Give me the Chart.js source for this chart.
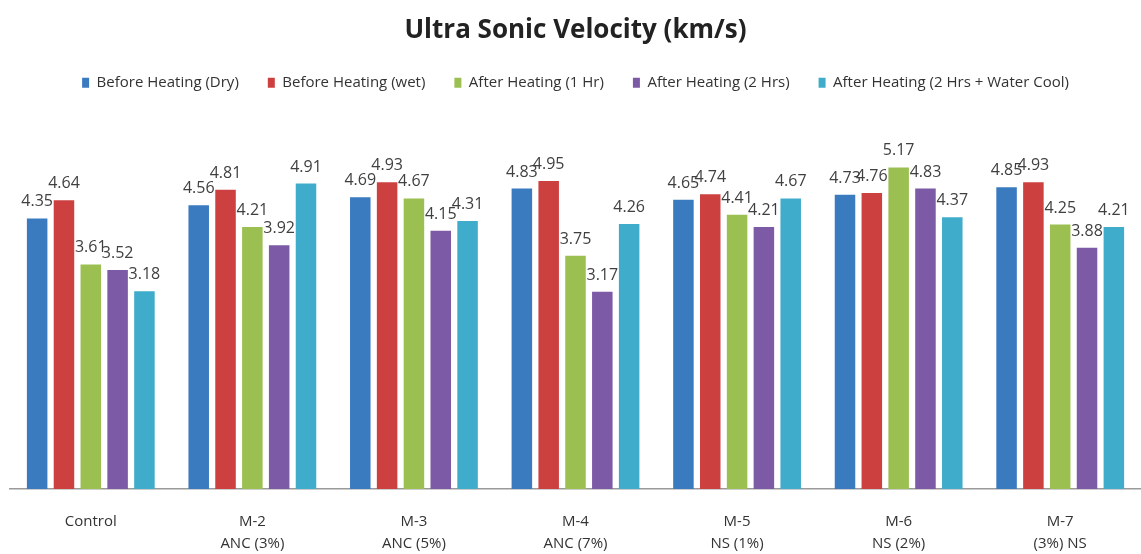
<!DOCTYPE html>
<html>
<head>
<meta charset="utf-8">
<script src="https://cdn.jsdelivr.net/npm/chart.js@4/dist/chart.umd.min.js"></script>
<style>
  html, body { margin: 0; padding: 0; background: #fff; }
  #wrap { width: 1141px; height: 554px; }
</style>
</head>
<body>
<div id="wrap"><canvas id="c" width="1141" height="554"></canvas></div>
<script>
const categories = [
  ['Control'],
  ['M-2', 'ANC (3%)'],
  ['M-3', 'ANC (5%)'],
  ['M-4', 'ANC (7%)'],
  ['M-5', 'NS (1%)'],
  ['M-6', 'NS (2%)'],
  ['M-7', '(3%) NS']
];
const seriesNames = [
  'Before Heating (Dry)',
  'Before Heating (wet)',
  'After Heating (1 Hr)',
  'After Heating (2 Hrs)',
  'After Heating (2 Hrs + Water Cool)'
];
const beforeDry   = [4.35, 4.56, 4.69, 4.83, 4.65, 4.73, 4.85];
const beforeWet   = [4.64, 4.81, 4.93, 4.95, 4.74, 4.76, 4.93];
const after1Hr    = [3.61, 4.21, 4.67, 3.75, 4.41, 5.17, 4.25];
const after2Hrs   = [3.52, 3.92, 4.15, 3.17, 4.21, 4.83, 3.88];
const after2HrsWC = [3.18, 4.91, 4.31, 4.26, 4.67, 4.37, 4.21];

const colors = ['#3A7BC0', '#CD4040', '#9CBF52', '#7D5AA6', '#40ACCB'];
const values = [beforeDry, beforeWet, after1Hr, after2Hrs, after2HrsWC];

const FONT = "'Open Sans', sans-serif";

// writes each bar's value just above its top
const valueLabels = {
  id: 'valueLabels',
  afterDatasetsDraw(chart) {
    const ctx = chart.ctx;
    ctx.save();
    ctx.font = '16px ' + FONT;
    ctx.fillStyle = '#404040';
    ctx.textAlign = 'center';
    ctx.textBaseline = 'alphabetic';
    chart.data.datasets.forEach((ds, i) => {
      const meta = chart.getDatasetMeta(i);
      meta.data.forEach((bar, j) => {
        ctx.fillText(ds.data[j].toFixed(2), bar.x, bar.y - 12);
      });
    });
    ctx.restore();
  }
};

new Chart(document.getElementById('c'), {
  type: 'bar',
  data: {
    labels: categories,
    datasets: seriesNames.map((name, i) => ({
      label: name,
      data: values[i],
      backgroundColor: colors[i],
      borderWidth: 0,
      categoryPercentage: 0.83,
      barPercentage: 0.765
    }))
  },
  options: {
    responsive: false,
    animation: false,
    layout: { padding: { left: 10, right: 0, top: 0, bottom: 0 } },
    plugins: {
      title: {
        display: true,
        text: 'Ultra Sonic Velocity (km/s)',
        color: '#222',
        font: { family: FONT, size: 26, weight: 'bold', lineHeight: 1.2 },
        padding: { top: 15, bottom: 0 }
      },
      legend: {
        display: true,
        labels: {
          color: '#333',
          font: { family: FONT, size: 15 },
          boxWidth: 7,
          boxHeight: 10,
          padding: 29
        }
      },
      tooltip: { enabled: false }
    },
    scales: {
      x: {
        grid: { display: false, drawTicks: false },
        border: { display: true, color: '#9a9a9a', width: 1.5 },
        ticks: {
          color: '#333',
          font: { family: FONT, size: 15, lineHeight: 1.5 },
          padding: 21,
          maxRotation: 0,
          autoSkip: false
        },
        afterFit(scale) { scale.height = 65; }
      },
      y: {
        display: false,
        min: 0,
        max: 6.25
      }
    }
  },
  plugins: [valueLabels]
});
</script>
</body>
</html>
